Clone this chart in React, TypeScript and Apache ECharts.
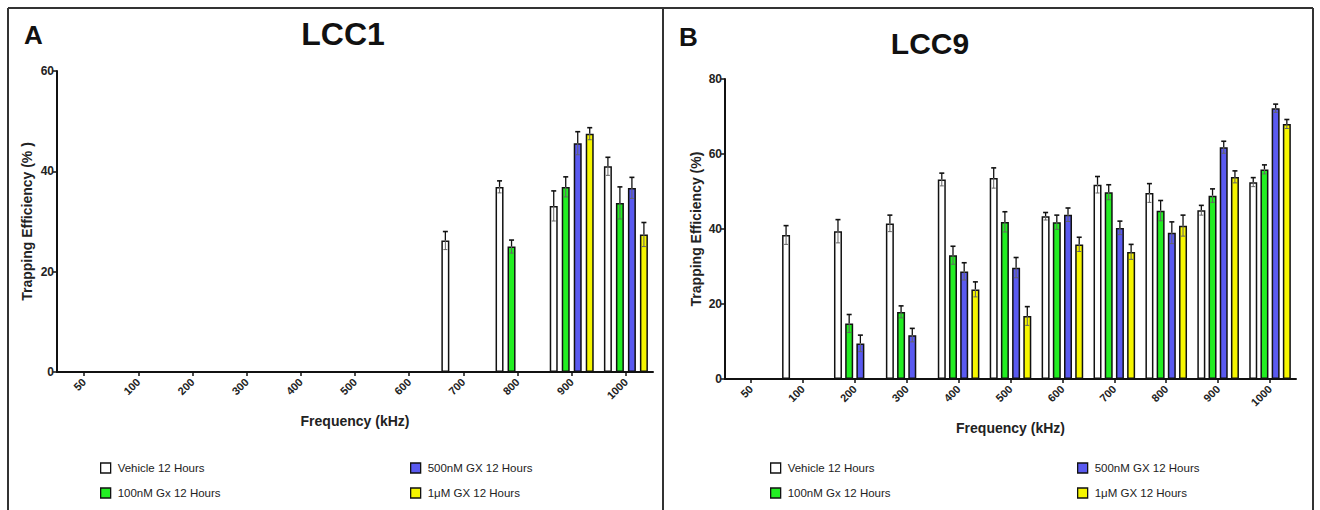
import React, { useEffect, useRef } from "react";
import * as echarts from "echarts";

const categories = ["50", "100", "200", "300", "400", "500", "600", "700", "800", "900", "1000"];
const seriesNames = ["Vehicle 12 Hours", "100nM Gx 12 Hours", "500nM GX 12 Hours", "1μM GX 12 Hours"];
const seriesColors = ["#ffffff", "#22ee22", "#5a5af0", "#f6f600"];

// Panel A: LCC1
const lcc1Vehicle = [null, null, null, null, null, null, null, 26.2, 36.9, 33.1, 41.0];
const lcc1VehicleErr = [null, null, null, null, null, null, null, 1.8, 1.2, 3.0, 1.8];
const lcc1Gx100 = [null, null, null, null, null, null, null, null, 25.0, 36.9, 33.7];
const lcc1Gx100Err = [null, null, null, null, null, null, null, null, 1.3, 2.0, 3.2];
const lcc1Gx500 = [null, null, null, null, null, null, null, null, null, 45.6, 36.7];
const lcc1Gx500Err = [null, null, null, null, null, null, null, null, null, 2.3, 2.1];
const lcc1Gx1u = [null, null, null, null, null, null, null, null, null, 47.5, 27.4];
const lcc1Gx1uErr = [null, null, null, null, null, null, null, null, null, 1.2, 2.4];

// Panel B: LCC9
const lcc9Vehicle = [null, 38.4, 39.4, 41.5, 53.2, 53.6, 43.4, 51.8, 49.6, 45.0, 52.5];
const lcc9VehicleErr = [null, 2.5, 3.1, 2.2, 1.7, 2.7, 1.0, 2.2, 2.5, 1.3, 1.2];
const lcc9Gx100 = [null, null, 14.8, 17.9, 33.0, 41.9, 41.8, 49.8, 44.9, 48.9, 55.9];
const lcc9Gx100Err = [null, null, 2.4, 1.6, 2.4, 2.7, 1.9, 2.0, 2.7, 1.8, 1.2];
const lcc9Gx500 = [null, null, 9.5, 11.7, 28.7, 29.7, 43.8, 40.3, 39.0, 61.8, 72.2];
const lcc9Gx500Err = [null, null, 2.2, 1.8, 2.3, 2.7, 1.8, 1.8, 2.9, 1.6, 1.1];
const lcc9Gx1u = [null, null, null, null, 23.9, 16.8, 35.9, 33.9, 40.9, 53.9, 68.0];
const lcc9Gx1uErr = [null, null, null, null, 2.0, 2.5, 1.9, 2.0, 2.8, 1.6, 1.2];

const lcc1YTicks = { min: 0, max: 60, interval: 20 };
const lcc9YTicks = { min: 0, max: 80, interval: 20 };

const FONT = "'Liberation Sans', Arial, sans-serif";

function errData(values: (number | null)[][], errs: (number | null)[][]) {
  const out: number[][] = [];
  values.forEach((vals, slot) => {
    vals.forEach((v, i) => {
      const e = errs[slot][i];
      if (v != null && e != null) out.push([i, v, e, slot]);
    });
  });
  return out;
}

function makeErrSeries(idx: number, data: number[][], step: number) {
  return {
    type: "custom",
    name: "err" + idx,
    xAxisIndex: idx,
    yAxisIndex: idx,
    z: 5,
    clip: false,
    encode: { x: 0, y: 1 },
    data,
    renderItem: (params: any, api: any) => {
      const ci = api.value(0);
      const v = api.value(1);
      const e = api.value(2);
      const slot = api.value(3);
      const base = api.coord([ci, v]);
      const x = base[0] + (slot - 1.5) * step;
      const y = base[1];
      const yTop = api.coord([ci, v + e])[1];
      const yBot = api.coord([ci, v - e])[1];
      const cap = 2.5;
      return {
        type: "group",
        children: [
          { type: "line", shape: { x1: x, y1: y, x2: x, y2: yTop }, style: { stroke: "#111", lineWidth: 1.3 } },
          { type: "line", shape: { x1: x - cap, y1: yTop, x2: x + cap, y2: yTop }, style: { stroke: "#111", lineWidth: 1.6 } },
          { type: "line", shape: { x1: x, y1: y, x2: x, y2: yBot }, style: { stroke: "#666", lineWidth: 1 } },
          { type: "line", shape: { x1: x - cap * 0.8, y1: yBot, x2: x + cap * 0.8, y2: yBot }, style: { stroke: "#666", lineWidth: 1 } },
        ],
      };
    },
  };
}

function barSeries(idx: number, values: (number | null)[][], gap: string) {
  return values.map((vals, s) => ({
    type: "bar",
    name: seriesNames[s],
    xAxisIndex: idx,
    yAxisIndex: idx,
    barWidth: 8,
    barGap: gap,
    data: vals,
    itemStyle: { color: seriesColors[s], borderColor: "#111", borderWidth: 1.5 },
  }));
}

function xAxisCfg(idx: number) {
  return {
    type: "category",
    gridIndex: idx,
    data: categories,
    name: "Frequency (kHz)",
    nameLocation: "middle",
    nameGap: 42,
    nameTextStyle: { fontFamily: FONT, fontWeight: "bold", fontSize: 14, color: "#222" },
    axisLine: { show: true, lineStyle: { color: "#111", width: 2 } },
    axisTick: { show: true, alignWithLabel: true, length: 4, lineStyle: { color: "#111", width: 1.5 } },
    axisLabel: { rotate: 45, margin: 8, fontFamily: FONT, fontWeight: "bold", fontSize: 11, color: "#222" },
    splitLine: { show: false },
  };
}

function yAxisCfg(idx: number, ticks: { min: number; max: number; interval: number }, name: string, gap: number) {
  return {
    type: "value",
    gridIndex: idx,
    min: ticks.min,
    max: ticks.max,
    interval: ticks.interval,
    name,
    nameLocation: "middle",
    nameRotate: 90,
    nameGap: gap,
    nameTextStyle: { fontFamily: FONT, fontWeight: "bold", fontSize: 14, color: "#222" },
    axisLine: { show: true, lineStyle: { color: "#111", width: 2 } },
    axisTick: { show: true, length: 4, lineStyle: { color: "#111", width: 1.5 } },
    axisLabel: { margin: 3, fontFamily: FONT, fontWeight: "bold", fontSize: 12, color: "#222" },
    splitLine: { show: false },
  };
}

function legendCfg(left: number, names: string[]) {
  return {
    orient: "vertical",
    left,
    top: 462,
    padding: 0,
    itemGap: 13,
    itemWidth: 10,
    itemHeight: 10,
    icon: "rect",
    selectedMode: false,
    data: names,
    itemStyle: { borderColor: "#111", borderWidth: 1.3 },
    textStyle: { fontFamily: FONT, fontSize: 11.5, color: "#222", padding: [0, 0, 0, 2] },
  };
}

export default function App() {
  const ref = useRef<HTMLDivElement>(null);
  useEffect(() => {
    if (!ref.current) return;
    const chart = echarts.init(ref.current, null, { renderer: "svg" });
    const aVals = [lcc1Vehicle, lcc1Gx100, lcc1Gx500, lcc1Gx1u];
    const aErrs = [lcc1VehicleErr, lcc1Gx100Err, lcc1Gx500Err, lcc1Gx1uErr];
    const bVals = [lcc9Vehicle, lcc9Gx100, lcc9Gx500, lcc9Gx1u];
    const bErrs = [lcc9VehicleErr, lcc9Gx100Err, lcc9Gx500Err, lcc9Gx1uErr];
    const lineStyle = { stroke: "#333", lineWidth: 2 };
    chart.setOption({
      animation: false,
      backgroundColor: "#ffffff",
      grid: [
        { left: 57, top: 71, width: 596, height: 301 },
        { left: 725, top: 79, width: 571, height: 300 },
      ],
      xAxis: [xAxisCfg(0), xAxisCfg(1)],
      yAxis: [
        yAxisCfg(0, lcc1YTicks, "Trapping Efficiency (% )", 23),
        yAxisCfg(1, lcc9YTicks, "Trapping Efficiency (%)", 22),
      ],
      legend: [
        legendCfg(100, [seriesNames[0], seriesNames[1]]),
        legendCfg(410, [seriesNames[2], seriesNames[3]]),
        legendCfg(770, [seriesNames[0], seriesNames[1]]),
        legendCfg(1077, [seriesNames[2], seriesNames[3]]),
      ],
      series: [
        ...barSeries(0, aVals, "50%"),
        ...barSeries(1, bVals, "40%"),
        makeErrSeries(0, errData(aVals, aErrs), 12),
        makeErrSeries(1, errData(bVals, bErrs), 11.2),
      ],
      graphic: [
        { type: "line", shape: { x1: 8, y1: 8, x2: 1313, y2: 8 }, style: lineStyle },
        { type: "line", shape: { x1: 8, y1: 8, x2: 8, y2: 510 }, style: lineStyle },
        { type: "line", shape: { x1: 663, y1: 8, x2: 663, y2: 510 }, style: lineStyle },
        { type: "line", shape: { x1: 1313, y1: 8, x2: 1313, y2: 510 }, style: lineStyle },
        { type: "text", x: 24, y: 22, style: { text: "A", font: "bold 26px " + FONT, fill: "#111" } },
        { type: "text", x: 343, y: 18, style: { text: "LCC1", font: "bold 32px " + FONT, fill: "#111", textAlign: "center" } },
        { type: "text", x: 679, y: 24, style: { text: "B", font: "bold 26px " + FONT, fill: "#111" } },
        { type: "text", x: 930, y: 28, style: { text: "LCC9", font: "bold 30px " + FONT, fill: "#111", textAlign: "center" } },
      ],
    });
    return () => chart.dispose();
  }, []);
  return (
    <div
      ref={ref}
      style={{ position: "fixed", left: 0, top: 0, width: 1320, height: 510, background: "#fff" }}
    />
  );
}
